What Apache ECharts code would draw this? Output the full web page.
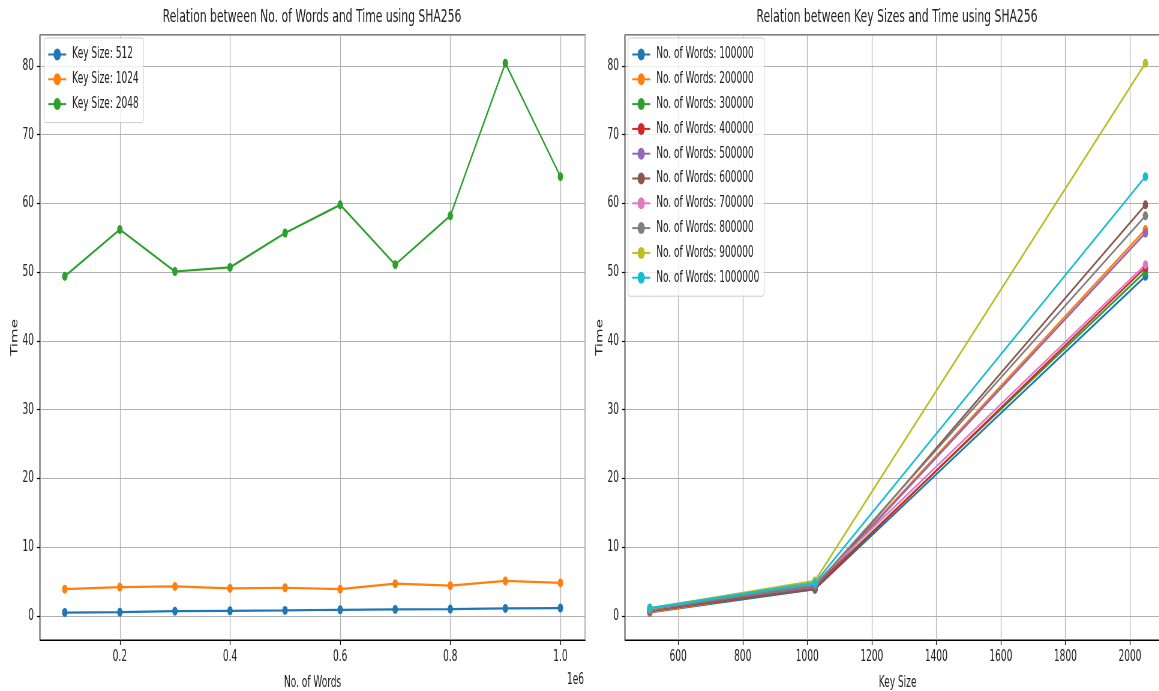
<!DOCTYPE html>
<html>
<head>
<meta charset="utf-8">
<title>SHA256 timing</title>
<script src="https://cdn.jsdelivr.net/npm/echarts@6/dist/echarts.min.js"></script>
<style>
  html, body { margin: 0; padding: 0; background: #fff; overflow: hidden; }
  /* the reference figure is squeezed sideways, so draw it wide and squeeze it back */
  #main { width: 1931.67px; height: 691px; transform: scaleX(0.6); transform-origin: 0 0; }
</style>
</head>
<body>
<div id="main"></div>
<script>
  // data
  const wordCounts = [100000, 200000, 300000, 400000, 500000, 600000, 700000, 800000, 900000, 1000000];
  const keySizes = [512, 1024, 2048];
  const time512 = [0.5, 0.55, 0.7, 0.75, 0.8, 0.9, 0.95, 1.0, 1.1, 1.15];
  const time1024 = [3.9, 4.2, 4.3, 4.0, 4.1, 3.9, 4.7, 4.4, 5.1, 4.8];
  const time2048 = [49.4, 56.2, 50.1, 50.7, 55.7, 59.8, 51.1, 58.2, 80.4, 63.9];

  const colors = ['#1f77b4', '#ff7f0e', '#2ca02c', '#d62728', '#9467bd',
                  '#8c564b', '#e377c2', '#7f7f7f', '#bcbd22', '#17becf'];
  const FONT = 'DejaVu Sans';
  const SX = 0.6;
  const W = 1159 / SX;
  const px = x => x / SX; // reference x -> unsqueezed x

  const byKey = [time512, time1024, time2048];

  const leftSeries = keySizes.map((k, j) => ({
    name: 'Key Size: ' + k,
    type: 'line',
    xAxisIndex: 0,
    yAxisIndex: 0,
    data: wordCounts.map((w, i) => [w, byKey[j][i]]),
    symbol: 'circle',
    symbolSize: 9,
    itemStyle: { color: colors[j] },
    lineStyle: { color: colors[j], width: 2.25 }
  }));

  const rightSeries = wordCounts.map((w, i) => ({
    name: 'No. of Words: ' + w,
    type: 'line',
    xAxisIndex: 1,
    yAxisIndex: 1,
    data: keySizes.map((k, j) => [k, byKey[j][i]]),
    symbol: 'circle',
    symbolSize: 9,
    itemStyle: { color: colors[i] },
    lineStyle: { color: colors[i], width: 2.25 }
  }));

  const axisCommon = {
    type: 'value',
    axisLine: { show: true, onZero: false, lineStyle: { color: '#000', width: 1.2 } },
    axisTick: { show: true, length: 5, lineStyle: { color: '#000', width: 1.2 } },
    axisLabel: { fontFamily: FONT, fontSize: 15, color: '#222', margin: 10,
                 showMinLabel: false, showMaxLabel: false, formatter: v => String(v) },
    splitLine: { show: true, lineStyle: { color: '#b0b0b0', width: 1.2 } },
    nameLocation: 'middle',
    nameTextStyle: { fontFamily: FONT, fontSize: 15, color: '#222' }
  };

  function yAxis(i) {
    return Object.assign({}, axisCommon, {
      gridIndex: i, min: -3.5, max: 84.5, splitNumber: 9,
      name: 'Time', nameRotate: 90, nameGap: 34
    });
  }

  const legendCommon = {
    orient: 'vertical',
    top: 38,
    padding: [9, 8, 11, 6],
    itemWidth: 30,
    itemHeight: 15,
    itemGap: 9.8,
    backgroundColor: 'rgba(255,255,255,0.8)',
    borderColor: '#cccccc',
    borderWidth: 1,
    borderRadius: 3,
    textStyle: { fontFamily: FONT, fontSize: 15, color: '#222', lineHeight: 15, padding: [0, 0, 0, 5] }
  };

  const option = {
    animation: false,
    backgroundColor: '#fff',
    grid: [
      { left: px(40), right: W - px(585), top: 35, bottom: 51, show: true,
        borderColor: '#000', borderWidth: 1.2, containLabel: false, outerBoundsMode: 'none' },
      { left: px(625), right: W - px(1170), top: 35, bottom: 51, show: true,
        borderColor: '#000', borderWidth: 1.2, containLabel: false, outerBoundsMode: 'none' }
    ],
    xAxis: [
      Object.assign({}, axisCommon, {
        gridIndex: 0, min: 55000, max: 1045000, splitNumber: 5,
        name: 'No. of Words', nameGap: 36,
        axisLabel: Object.assign({}, axisCommon.axisLabel, {
          formatter: v => (v / 1e6).toFixed(1)
        })
      }),
      Object.assign({}, axisCommon, {
        gridIndex: 1, min: 435.2, max: 2124.8, splitNumber: 8,
        name: 'Key Size', nameGap: 36
      })
    ],
    yAxis: [yAxis(0), yAxis(1)],
    legend: [
      Object.assign({}, legendCommon, {
        left: px(44),
        data: leftSeries.map(s => s.name)
      }),
      Object.assign({}, legendCommon, {
        left: px(628),
        data: rightSeries.map(s => s.name)
      })
    ],
    graphic: [
      { type: 'text', x: px(312), y: 17,
        style: { text: 'Relation between No. of Words and Time using SHA256', fontFamily: FONT,
                 fontSize: 18, fill: '#222', align: 'center', verticalAlign: 'middle' } },
      { type: 'text', x: px(897), y: 17,
        style: { text: 'Relation between Key Sizes and Time using SHA256', fontFamily: FONT,
                 fontSize: 18, fill: '#222', align: 'center', verticalAlign: 'middle' } },
      { type: 'text', x: px(584), y: 680,
        style: { text: '1e6', fontFamily: FONT, fontSize: 15, fill: '#222',
                 align: 'right', verticalAlign: 'middle' } }
    ],
    series: leftSeries.concat(rightSeries)
  };

  const chart = echarts.init(document.getElementById('main'), null, { renderer: 'canvas' });
  chart.setOption(option);
</script>
</body>
</html>
